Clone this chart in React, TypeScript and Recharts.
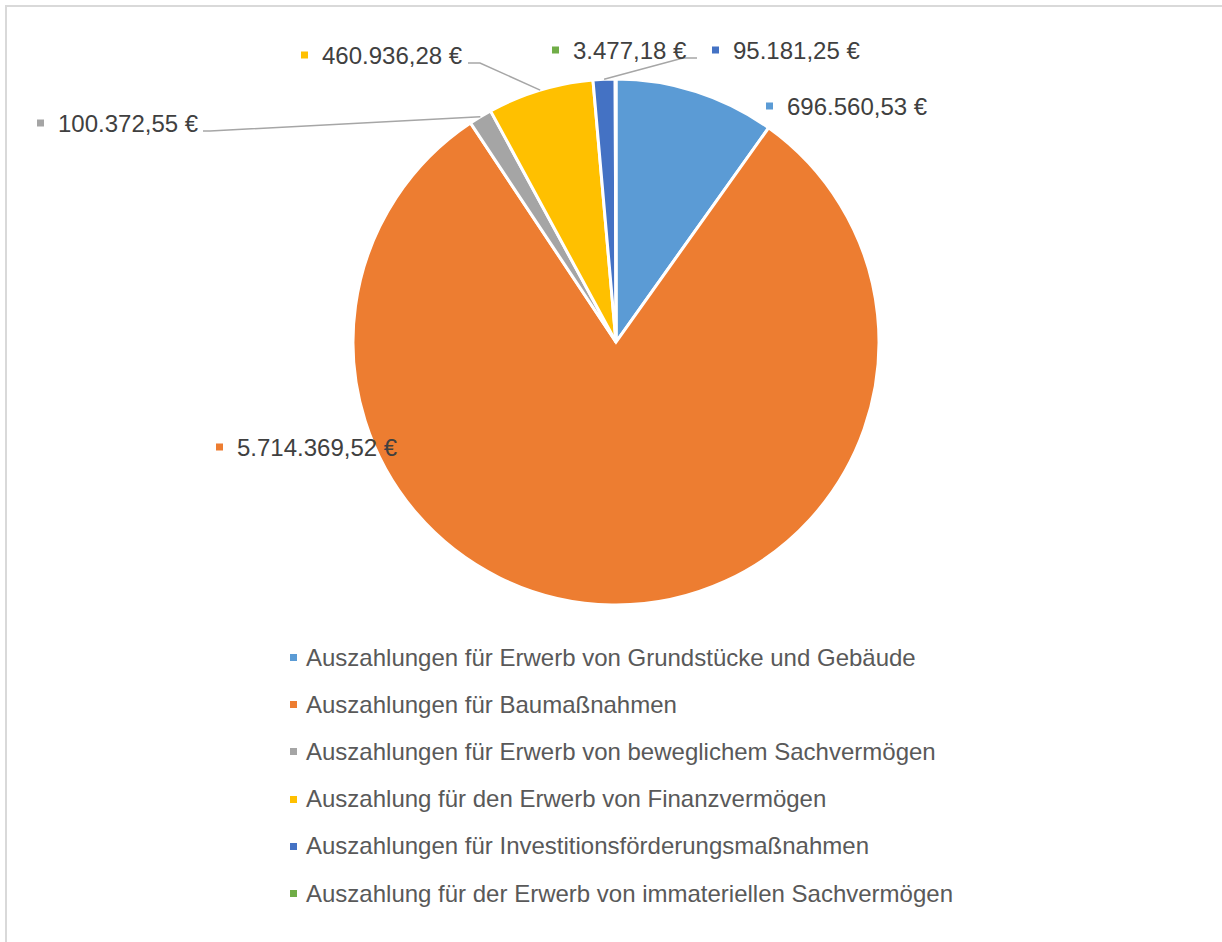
import { PieChart, Pie, Cell, Legend } from 'recharts'

const categories = [
  'Auszahlungen für Erwerb von Grundstücke und Gebäude',
  'Auszahlungen für Baumaßnahmen',
  'Auszahlungen für Erwerb von beweglichem Sachvermögen',
  'Auszahlung für den Erwerb von Finanzvermögen',
  'Auszahlungen für Investitionsförderungsmaßnahmen',
  'Auszahlung für der Erwerb von immateriellen Sachvermögen',
]
const amounts = [696560.53, 5714369.52, 100372.55, 460936.28, 95181.25, 3477.18]
const colors = ['#5B9BD5', '#ED7D31', '#A5A5A5', '#FFC000', '#4472C4', '#70AD47']

// where each data label sits, relative to the pie centre (marker left / text middle)
const labelSpots: { dx: number; dy: number; elbow?: [number, number]; end?: [number, number] }[] = [
  { dx: 150, dy: -236 },
  { dx: -400, dy: 105 },
  { dx: -579, dy: -219, elbow: [-406, -211], end: [-413, -211] },
  { dx: -315, dy: -287, elbow: [-136, -279], end: [-148, -279] },
  { dx: 96, dy: -292, elbow: [67, -284], end: [81, -284] },
  { dx: -64, dy: -292 },
]

const data = categories.map((name, i) => ({ name, value: amounts[i] }))

const FONT = "'Liberation Sans', Arial, sans-serif"
const RADIAN = Math.PI / 180

function euro(v: number) {
  const [int, dec] = v.toFixed(2).split('.')
  return int.replace(/\B(?=(\d{3})+(?!\d))/g, '.') + ',' + dec + ' €'
}

function renderLabel(props: any) {
  const { cx, cy, midAngle, outerRadius, index } = props
  const spot = labelSpots[index]
  const x = cx + spot.dx
  const y = cy + spot.dy
  let leader = null
  if (spot.elbow && spot.end) {
    const sx = cx + outerRadius * Math.cos(-midAngle * RADIAN)
    const sy = cy + outerRadius * Math.sin(-midAngle * RADIAN)
    leader = (
      <polyline
        points={`${sx},${sy} ${cx + spot.elbow[0]},${cy + spot.elbow[1]} ${cx + spot.end[0]},${cy + spot.end[1]}`}
        fill="none"
        stroke="#A6A6A6"
        strokeWidth={1.5}
      />
    )
  }
  return (
    <g key={`lbl-${index}`}>
      {leader}
      <rect x={x} y={y - 3.5} width={7} height={7} fill={colors[index]} />
      <text x={x + 21} y={y + 8.6} fill="#404040" fontSize={24} fontFamily={FONT}>
        {euro(amounts[index])}
      </text>
    </g>
  )
}

// legend keeps the data order (not alphabetical)
function LegendRows() {
  return (
    <div style={{ fontFamily: FONT, fontSize: 24, color: '#595959' }}>
      {categories.map((name, i) => (
        <div key={name} style={{ height: 47.2, display: 'flex', alignItems: 'center', whiteSpace: 'nowrap' }}>
          <span style={{ display: 'inline-block', width: 7, height: 7, background: colors[i], marginRight: 9 }} />
          <span>{name}</span>
        </div>
      ))}
    </div>
  )
}

export default function App() {
  return (
    <div style={{ position: 'absolute', left: 0, top: 0, width: 1222, height: 942, background: '#fff', overflow: 'hidden' }}>
      <div
        style={{
          position: 'absolute',
          left: 5,
          top: 5,
          width: 1300,
          height: 1000,
          border: '2px solid #D9D9D9',
        }}
      />
      <div style={{ position: 'absolute', left: 0, top: 0 }}>
        <PieChart width={1222} height={942} margin={{ top: 0, right: 0, bottom: 0, left: 0 }}>
          <Pie
            data={data}
            dataKey="value"
            nameKey="name"
            cx={616}
            cy={342}
            outerRadius={263}
            startAngle={90}
            endAngle={-270}
            stroke="#FFFFFF"
            strokeWidth={3}
            label={renderLabel}
            labelLine={false}
            isAnimationActive={false}
          >
            {data.map((d, i) => (
              <Cell key={d.name} fill={colors[i]} />
            ))}
          </Pie>
          <Legend
            layout="vertical"
            align="center"
            verticalAlign="middle"
            content={<LegendRows />}
            wrapperStyle={{ left: 290, top: 634, width: 720 }}
          />
        </PieChart>
      </div>
    </div>
  )
}
